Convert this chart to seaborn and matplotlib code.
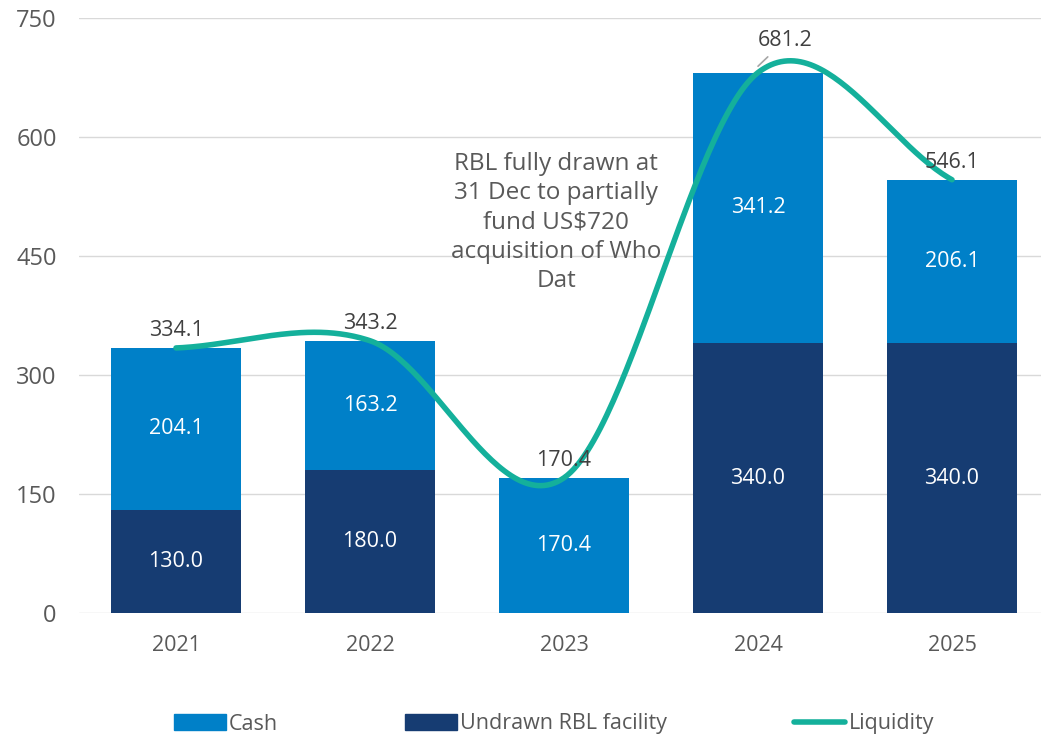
import numpy as np
import pandas as pd
import seaborn as sns
import matplotlib.pyplot as plt
from matplotlib.patches import Rectangle
from matplotlib.lines import Line2D

years = ["2021", "2022", "2023", "2024", "2025"]
undrawn = [130.0, 180.0, 0.0, 340.0, 340.0]
cash = [204.1, 163.2, 170.4, 341.2, 206.1]
liquidity = [334.1, 343.2, 170.4, 681.2, 546.1]
note = "RBL fully drawn at\n31 Dec to partially\nfund US\\$720\nacquisition of Who\nDat"

c_cash = "#0080C8"
c_undrawn = "#163C72"
c_liq = "#14B09B"
c_text = "#404040"

sns.set_style("white")
plt.rcParams["font.family"] = ["Open Sans", "DejaVu Sans"]

df = pd.DataFrame({"year": years, "undrawn": undrawn, "cash": cash})

fig = plt.figure(figsize=(10.41, 7.36), dpi=100)
ax = fig.add_axes([79 / 1041, 1 - 613 / 736, 1 - 79 / 1041, 595 / 736])

sns.barplot(data=df, x="year", y="undrawn", color=c_undrawn, width=0.665,
            saturation=1, linewidth=0, ax=ax, zorder=2)
sns.barplot(data=df, x="year", y="cash", color=c_cash, width=0.665,
            saturation=1, linewidth=0, bottom=df["undrawn"], ax=ax, zorder=2)

# smoothed line (Excel style, Catmull-Rom through the totals)
p = np.array(liquidity)
n = len(p)
m = np.zeros(n)
m[0] = p[1] - p[0]
m[-1] = p[-1] - p[-2]
m[1:-1] = (p[2:] - p[:-2]) / 2
xs, ys = [], []
for i in range(n - 1):
    t = np.linspace(0, 1, 60)
    h00 = 2 * t**3 - 3 * t**2 + 1
    h10 = t**3 - 2 * t**2 + t
    h01 = -2 * t**3 + 3 * t**2
    h11 = t**3 - t**2
    xs.extend(i + t)
    ys.extend(h00 * p[i] + h10 * m[i] + h01 * p[i + 1] + h11 * m[i + 1])
sns.lineplot(x=xs, y=ys, sort=False, color=c_liq, lw=4, ax=ax, zorder=3)

fs = 15.5

# segment labels
for i in range(n):
    if undrawn[i] > 0:
        ax.text(i, undrawn[i] / 2, f"{undrawn[i]:.1f}", ha="center", va="center",
                color="white", fontsize=fs, zorder=4)
    ax.text(i, undrawn[i] + cash[i] / 2, f"{cash[i]:.1f}", ha="center", va="center",
            color="white", fontsize=fs, zorder=4)

# total labels
for i in range(n):
    if i == 3:
        ax.annotate(f"{liquidity[i]:.1f}", xy=(i, liquidity[i] + 8),
                    xytext=(i + 0.14, 722), ha="center", va="center",
                    fontsize=fs, color=c_text, zorder=5,
                    arrowprops=dict(arrowstyle="-", color="#A6A6A6", lw=1.2,
                                    shrinkA=3, shrinkB=0))
    else:
        ax.annotate(f"{liquidity[i]:.1f}", xy=(i, liquidity[i]), xytext=(0, 5),
                    textcoords="offset points", ha="center", va="bottom",
                    fontsize=fs, color=c_text, zorder=5)

ax.text(1.96, 492, note, ha="center", va="center", fontsize=17.5, color="#595959",
        linespacing=1.3, zorder=1)

ax.set_ylim(0, 750)
ax.set_yticks([0, 150, 300, 450, 600, 750])
ax.set_xlim(-0.5, 4.5 - 8 / 194)
ax.set_xlabel("")
ax.set_ylabel("")
ax.grid(axis="y", color="#D9D9D9", lw=1, zorder=0)
ax.set_axisbelow(True)
for s in ax.spines.values():
    s.set_visible(False)
ax.tick_params(axis="both", length=0, labelsize=fs, colors="#595959")
ax.tick_params(axis="y", labelsize=17)
ax.tick_params(axis="x", pad=16)
ax.tick_params(axis="y", pad=16)

handles = [Rectangle((0, 0), 1, 1, color=c_cash),
           Rectangle((0, 0), 1, 1, color=c_undrawn),
           Line2D([], [], color=c_liq, lw=4)]
fig.legend(handles, ["Cash", "Undrawn RBL facility", "Liquidity"], loc="center",
           bbox_to_anchor=(554 / 1041, 1 - 724 / 736), ncol=3, frameon=False,
           fontsize=fs, handlelength=2.4, handletextpad=0.15, columnspacing=5.9,
           labelcolor="#595959")

fig.savefig("out.png", dpi=100)
